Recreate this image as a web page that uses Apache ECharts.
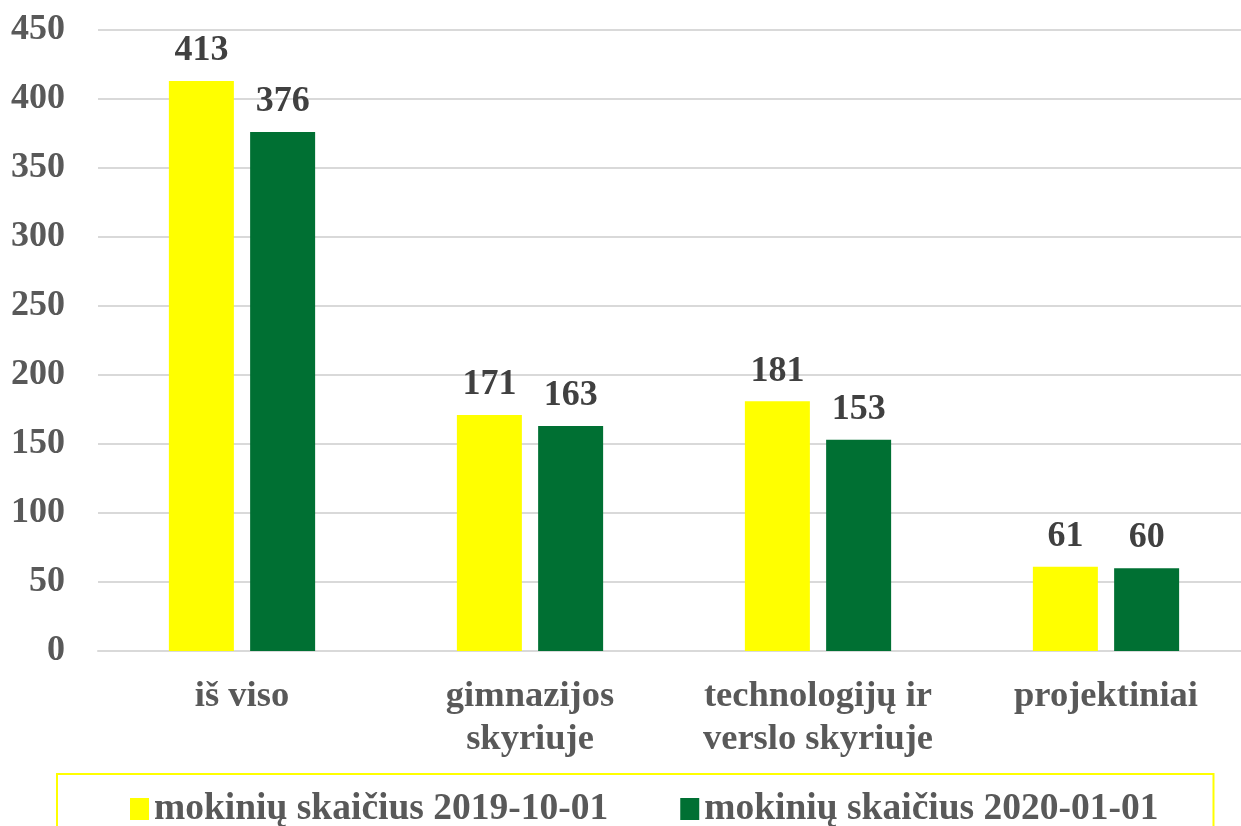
<!DOCTYPE html>
<html>
<head>
<meta charset="utf-8">
<script src="https://cdn.jsdelivr.net/npm/echarts@6/dist/echarts.min.js"></script>
<style>
    html, body { margin: 0; padding: 0; background: #fff; }
    #chart { width: 1241px; height: 826px; }
</style>
</head>
<body>
<div id="chart"></div>
<script>
    var categories = ['iš viso', 'gimnazijos\nskyriuje', 'technologijų ir\nverslo skyriuje', 'projektiniai'];
    var seriesNames = ['mokinių skaičius 2019-10-01', 'mokinių skaičius 2020-01-01'];
    var values2019 = [413, 171, 181, 61];
    var values2020 = [376, 163, 153, 60];
    var yTicks = [0, 50, 100, 150, 200, 250, 300, 350, 400, 450];

    var font = '"Liberation Serif", "Times New Roman", serif';
    var chart = echarts.init(document.getElementById('chart'));

    function barSeries(name, data, color) {
        return {
            name: name,
            type: 'bar',
            data: data,
            barWidth: 65,
            barGap: '25%',
            itemStyle: {color: color},
            label: {
                show: true,
                position: 'top',
                distance: 12,
                color: '#404040',
                fontFamily: font,
                fontWeight: 'bold',
                fontSize: 36
            }
        };
    }

    chart.setOption({
        animation: false,
        grid: {left: 98, width: 1152, top: 30, bottom: 175, outerBoundsMode: 'none'},
        legend: {
            top: 774,
            left: 57,
            padding: [16, 55, 30, 73],
            borderColor: '#ffff00',
            borderWidth: 2,
            itemWidth: 19,
            itemHeight: 22,
            itemGap: 72,
            icon: 'rect',
            textStyle: {color: '#595959', fontFamily: font, fontWeight: 'bold', fontSize: 37.5},
            data: seriesNames
        },
        xAxis: {
            type: 'category',
            data: categories,
            axisLine: {lineStyle: {color: '#d9d9d9', width: 2}},
            axisTick: {show: false},
            axisLabel: {
                color: '#595959', fontFamily: font, fontWeight: 'bold', fontSize: 36.5,
                lineHeight: 43, margin: 24, interval: 0
            }
        },
        yAxis: {
            type: 'value',
            min: yTicks[0],
            max: yTicks[yTicks.length - 1],
            interval: 50,
            axisLine: {show: false},
            axisTick: {show: false},
            splitLine: {lineStyle: {color: '#d9d9d9', width: 2}},
            axisLabel: {color: '#595959', fontFamily: font, fontWeight: 'bold', fontSize: 36, margin: 33}
        },
        series: [
            barSeries(seriesNames[0], values2019, '#ffff00'),
            barSeries(seriesNames[1], values2020, '#007033')
        ]
    });
</script>
</body>
</html>
